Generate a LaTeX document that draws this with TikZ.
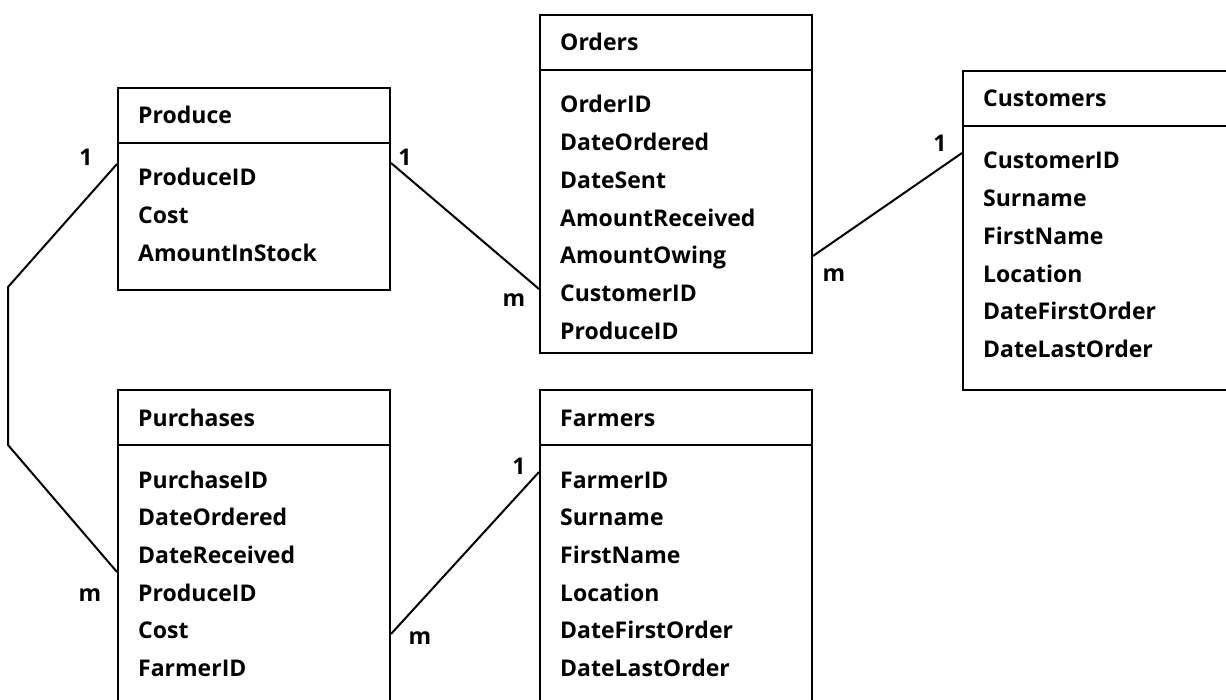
\documentclass[tikz,border=0pt]{standalone}
\usepackage{fontspec}
\setmainfont{Open Sans}
\usetikzlibrary{calc}
\tikzset{
  box/.style={draw, line width=2pt, rectangle, inner sep=0pt},
  sepline/.style={line width=2pt},
  conn/.style={line width=2pt},
  lbl/.style={inner sep=0pt, font=\fontsize{23}{23}\selectfont\bfseries},
  card/.style={inner sep=0pt, anchor=base, font=\fontsize{23}{23}\selectfont\bfseries},
}
\newcommand\erbox[7]{%
  \node[box, minimum width=#4pt, minimum height=#5pt, anchor=north west] (#1) at (#2,#3) {};
  \draw[sepline] ([yshift=-56pt]#1.north west) -- ([yshift=-56pt]#1.north east);
  \node[lbl, anchor=base west] (#1-title) at ([xshift=21pt,yshift=-37pt]#1.north west) {#6};
  \foreach \t [count=\i] in {#7}
    \node[lbl, anchor=base west] (#1-\i) at ([xshift=21pt,yshift={-99pt-(\i-1)*37.7pt}]#1.north west) {\t};
}
\begin{document}
\begin{tikzpicture}[x=1pt,y=-1pt]
\useasboundingbox (0,0) rectangle (1226,700);
\clip (0,0) rectangle (1226,700);
\fill[white] (0,0) rectangle (1226,700);
\erbox{produce}{117}{87}{272}{202}{Produce}{ProduceID,Cost,AmountInStock}
\erbox{orders}{539}{14}{272}{338}{Orders}{OrderID,DateOrdered,DateSent,AmountReceived,AmountOwing,CustomerID,ProduceID}
\erbox{customers}{962}{70}{290}{319}{Customers}{CustomerID,Surname,FirstName,Location,DateFirstOrder,DateLastOrder}
\erbox{purchases}{117}{389}{272}{340}{Purchases}{PurchaseID,DateOrdered,DateReceived,ProduceID,Cost,FarmerID}
\erbox{farmers}{539}{389}{272}{340}{Farmers}{FarmerID,Surname,FirstName,Location,DateFirstOrder,DateLastOrder}
% connectors
\coordinate (bendA) at (8,287);
\coordinate (bendB) at (8,445);
\draw[conn, line join=miter] ([yshift=-77pt]produce.north west) -- (bendA) -- (bendB) -- ([yshift=-183pt]purchases.north west);
\draw[conn] ([yshift=-76pt]produce.north east) -- ([yshift=-275pt]orders.north west);
\draw[conn] ([yshift=-242pt]orders.north east) -- ([yshift=-83pt]customers.north west);
\draw[conn] ([yshift=-245pt]purchases.north east) -- ([yshift=-83pt]farmers.north west);
% cardinalities
\node[card] (c1) at (86,166) {1};
\node[card] (c2) at (90,601) {m};
\node[card] (c3) at (405,166) {1};
\node[card] (c4) at (514,307) {m};
\node[card] (c5) at (940,152) {1};
\node[card] (c6) at (834,282) {m};
\node[card] (c7) at (519,474) {1};
\node[card] (c8) at (420,644) {m};
\end{tikzpicture}
\end{document}
